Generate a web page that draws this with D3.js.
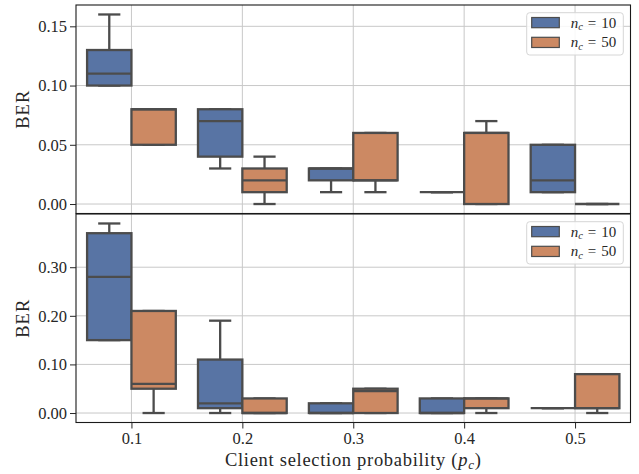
<!DOCTYPE html>
<html><head><meta charset="utf-8">
<script src="https://cdn.jsdelivr.net/npm/d3@7"></script>
<style>body{margin:0;background:#fff} svg{display:block} text{white-space:pre}</style>
</head><body><svg id="c" width="639" height="474"></svg>
<script>
// ---------- data ----------
const categories = ["0.1", "0.2", "0.3", "0.4", "0.5"];
const seriesLabels = ["10", "50"];           // n_c values
const seriesColors = ["#5874a4", "#cc8963"];

// top panel, n_c = 10
const top10Low  = [0.10, 0.03, 0.01, 0.01, 0.01];
const top10Q1   = [0.10, 0.04, 0.02, 0.01, 0.01];
const top10Med  = [0.11, 0.07, 0.03, 0.01, 0.02];
const top10Q3   = [0.13, 0.08, 0.03, 0.01, 0.05];
const top10High = [0.16, 0.08, 0.03, 0.01, 0.05];
// top panel, n_c = 50
const top50Low  = [0.05, 0.00, 0.01, 0.00, 0.00];
const top50Q1   = [0.05, 0.01, 0.02, 0.00, 0.00];
const top50Med  = [0.08, 0.02, 0.02, 0.06, 0.00];
const top50Q3   = [0.08, 0.03, 0.06, 0.06, 0.00];
const top50High = [0.08, 0.04, 0.06, 0.07, 0.00];
// bottom panel, n_c = 10
const bot10Low  = [0.15, 0.00, 0.00, 0.00, 0.01];
const bot10Q1   = [0.15, 0.01, 0.00, 0.00, 0.01];
const bot10Med  = [0.28, 0.02, 0.00, 0.00, 0.01];
const bot10Q3   = [0.37, 0.11, 0.02, 0.03, 0.01];
const bot10High = [0.39, 0.19, 0.02, 0.03, 0.01];
// bottom panel, n_c = 50
const bot50Low  = [0.00, 0.00, 0.00, 0.00, 0.00];
const bot50Q1   = [0.05, 0.00, 0.00, 0.01, 0.01];
const bot50Med  = [0.06, 0.00, 0.045, 0.03, 0.01];
const bot50Q3   = [0.21, 0.03, 0.05, 0.03, 0.08];
const bot50High = [0.21, 0.03, 0.05, 0.03, 0.08];

const topTicks = [0, 0.05, 0.10, 0.15];
const botTicks = [0, 0.10, 0.20, 0.30];

// ---------- build ----------
function series(low, q1, med, q3, high) {
  return categories.map((c, i) => ({cat: i, low: low[i], q1: q1[i], med: med[i], q3: q3[i], high: high[i]}));
}
const panels = [
  {y0: 5, y1: 213.5, ticks: topTicks,
   series: [series(top10Low, top10Q1, top10Med, top10Q3, top10High),
            series(top50Low, top50Q1, top50Med, top50Q3, top50High)]},
  {y0: 214, y1: 422.5, ticks: botTicks,
   series: [series(bot10Low, bot10Q1, bot10Med, bot10Q3, bot10High),
            series(bot50Low, bot50Q1, bot50Med, bot50Q3, bot50High)]}
];

const FONT = "'Liberation Serif', 'Times New Roman', serif";
const TXT = "#262626";
const LINE = "#4c4c4c";
const LW = 2.3;
const svg = d3.select("#c");
const L = 76, R = 630.5;
const x = d3.scaleLinear().domain([-0.5, categories.length - 0.5]).range([L, R]);
const hueW = 0.4;

panels.forEach((p, pi) => {
  const all = p.series.flat();
  const lo = d3.min(all, d => d.low), hi = d3.max(all, d => d.high);
  const pad = (hi - lo) * 0.05;
  const y = d3.scaleLinear().domain([lo - pad, hi + pad]).range([p.y1, p.y0]);
  const g = svg.append("g");

  // grid
  g.selectAll(".hg").data(p.ticks).join("line")
    .attr("x1", L).attr("x2", R).attr("y1", d => y(d)).attr("y2", d => y(d))
    .attr("stroke", "#c8c8c8").attr("stroke-width", 1);
  g.selectAll(".vg").data(categories).join("line")
    .attr("x1", (d, i) => x(i)).attr("x2", (d, i) => x(i)).attr("y1", p.y0).attr("y2", p.y1)
    .attr("stroke", "#c8c8c8").attr("stroke-width", 1);

  // boxes
  p.series.forEach((s, si) => {
    const off = (si - 0.5) * hueW;
    const bg = g.append("g");
    s.forEach(d => {
      const cx = x(d.cat + off), bw = x(hueW) - x(0), cw = bw / 2;
      bg.append("line").attr("x1", cx).attr("x2", cx).attr("y1", y(d.q3)).attr("y2", y(d.high))
        .attr("stroke", LINE).attr("stroke-width", LW);
      bg.append("line").attr("x1", cx).attr("x2", cx).attr("y1", y(d.q1)).attr("y2", y(d.low))
        .attr("stroke", LINE).attr("stroke-width", LW);
      [d.high, d.low].forEach(v => bg.append("line")
        .attr("x1", cx - cw / 2).attr("x2", cx + cw / 2).attr("y1", y(v)).attr("y2", y(v))
        .attr("stroke", LINE).attr("stroke-width", LW));
      bg.append("rect").attr("x", cx - bw / 2).attr("width", bw)
        .attr("y", y(d.q3)).attr("height", Math.max(0, y(d.q1) - y(d.q3)))
        .attr("fill", seriesColors[si]).attr("stroke", LINE).attr("stroke-width", LW);
      bg.append("line").attr("x1", cx - bw / 2).attr("x2", cx + bw / 2).attr("y1", y(d.med)).attr("y2", y(d.med))
        .attr("stroke", LINE).attr("stroke-width", LW);
    });
  });

  // spines
  g.append("rect").attr("x", L).attr("y", p.y0).attr("width", R - L).attr("height", p.y1 - p.y0)
    .attr("fill", "none").attr("stroke", "#1a1a1a").attr("stroke-width", 1.1);

  // y axis
  const ya = g.append("g").attr("transform", `translate(${L},0)`)
    .call(d3.axisLeft(y).tickValues(p.ticks).tickFormat(d3.format(".2f")).tickSize(6).tickPadding(3));
  ya.select(".domain").remove();
  ya.selectAll("line").attr("stroke", TXT).attr("stroke-width", 1);
  ya.selectAll("text").attr("font-family", FONT).attr("font-size", 16.5).attr("fill", TXT);

  // y label
  g.append("text").attr("transform", `translate(29,${(p.y0 + p.y1) / 2}) rotate(-90)`)
    .attr("text-anchor", "middle").attr("font-family", FONT).attr("font-size", 18.5)
    .attr("letter-spacing", 1).attr("fill", TXT)
    .text("BER");

  // x axis on bottom panel
  if (pi === panels.length - 1) {
    const xa = g.append("g").attr("transform", `translate(0,${p.y1})`)
      .call(d3.axisBottom(x).tickValues(categories.map((c, i) => i)).tickFormat(i => categories[i]).tickSize(6).tickPadding(4));
    xa.select(".domain").remove();
    xa.selectAll("line").attr("stroke", TXT).attr("stroke-width", 1);
    xa.selectAll("text").attr("font-family", FONT).attr("font-size", 16.5).attr("fill", TXT);
    const xl = g.append("text").attr("x", (L + R) / 2).attr("y", 465.5).attr("text-anchor", "middle")
      .attr("font-family", FONT).attr("font-size", 18.5).attr("letter-spacing", 0.7).attr("fill", TXT);
    xl.append("tspan").text("Client selection probability (");
    xl.append("tspan").attr("font-style", "italic").text("p");
    xl.append("tspan").attr("font-style", "italic").attr("font-size", 13).attr("dy", 3).text("c");
    xl.append("tspan").attr("dy", -3).text(")");
  }

  // legend
  const lx = 526.7, ly = p.y0 + 7.7;
  const lg = g.append("g");
  lg.append("rect").attr("x", lx).attr("y", ly).attr("width", 96.6).attr("height", 42.3).attr("rx", 3)
    .attr("fill", "#fff").attr("fill-opacity", 0.85).attr("stroke", "#d6d6d6").attr("stroke-width", 1);
  seriesLabels.forEach((lab, si) => {
    const ry = ly + 4.8 + si * 19.8;
    lg.append("rect").attr("x", lx + 5).attr("y", ry).attr("width", 27.6).attr("height", 10.2)
      .attr("fill", seriesColors[si]).attr("stroke", LINE).attr("stroke-width", 1.2);
    const t = lg.append("text").attr("x", lx + 44).attr("y", ry + 10).attr("font-family", FONT)
      .attr("font-size", 15).attr("fill", TXT);
    t.append("tspan").attr("font-style", "italic").text("n");
    t.append("tspan").attr("font-style", "italic").attr("font-size", 10.5).attr("dy", 2.5).text("c");
    t.append("tspan").attr("dy", -2.5).attr("dx", 5).text("=");
    t.append("tspan").attr("dx", 5).text(lab);
  });
});
</script>
</body></html>
